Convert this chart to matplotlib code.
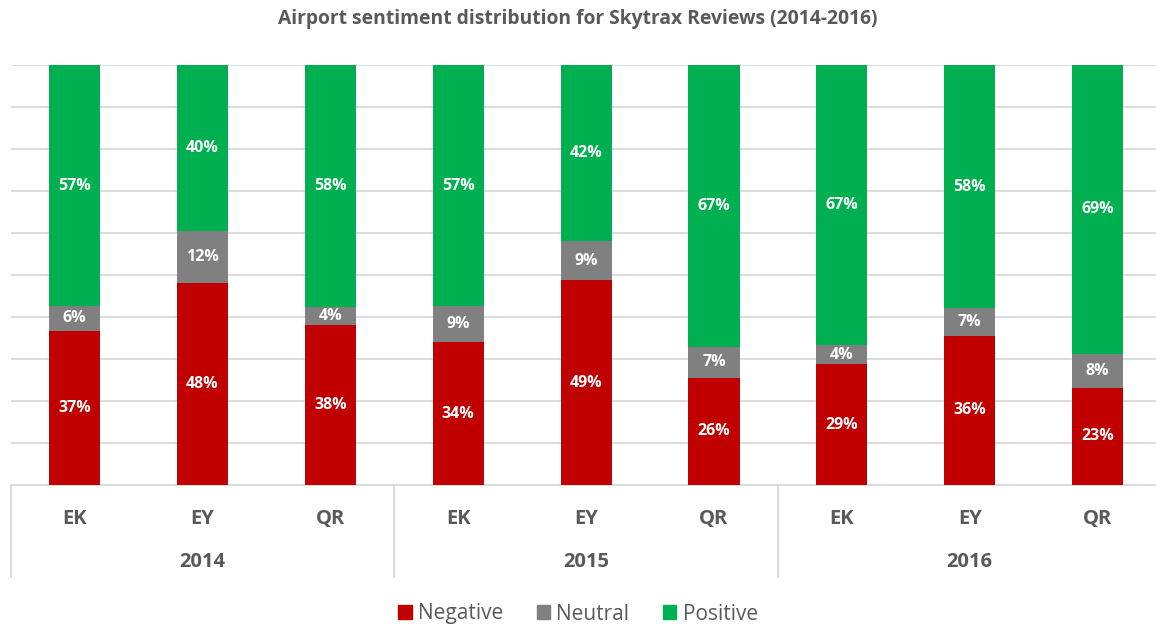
import matplotlib
matplotlib.use("Agg")
import matplotlib.pyplot as plt
from matplotlib.lines import Line2D
import numpy as np

plt.rcParams['font.family'] = ['Open Sans', 'DejaVu Sans']

years = ["2014", "2015", "2016"]
airlines = ["EK", "EY", "QR"]
negative = [36.7, 48.1, 38.1, 34.0, 48.8, 25.5, 28.8, 35.5, 23.1]
neutral = [5.9, 12.4, 4.3, 8.6, 9.3, 7.4, 4.5, 6.6, 8.1]
positive = [57.4, 39.6, 57.6, 57.4, 41.9, 67.1, 66.7, 57.9, 68.8]

colors = {"Negative": "#C00000", "Neutral": "#808080", "Positive": "#00B050"}
text_gray = "#595959"

W, H = 1156, 628
fig = plt.figure(figsize=(W / 100, H / 100), dpi=100)
ax = fig.add_axes([10.6 / W, 1 - 485 / H, 1151 / W, 420 / H])

n = len(negative)
x = np.arange(n)
neg = np.array(negative)
neu = np.array(neutral)
pos = np.array(positive)
tot = neg + neu + pos
negp, neup, posp = neg / tot * 100, neu / tot * 100, pos / tot * 100

bw = 0.40
ax.bar(x, negp, bw, color=colors["Negative"], zorder=3)
ax.bar(x, neup, bw, bottom=negp, color=colors["Neutral"], zorder=3)
ax.bar(x, posp, bw, bottom=negp + neup, color=colors["Positive"], zorder=3)

for i in range(n):
    for bottom, h, v in [(0, negp[i], neg[i]), (negp[i], neup[i], neu[i]),
                         (negp[i] + neup[i], posp[i], pos[i])]:
        ax.text(x[i], bottom + h / 2, f"{v:.0f}%", ha="center", va="center",
                color="white", fontsize=11.5, fontweight="bold", zorder=4)

ax.set_xlim(-0.5, n - 0.5)
ax.set_ylim(0, 100)
ax.set_yticks(np.arange(0, 101, 10))
ax.yaxis.grid(True, color="#D9D9D9", linewidth=1.3, zorder=0)
ax.tick_params(axis="y", left=False, labelleft=False)
ax.tick_params(axis="x", bottom=False, labelbottom=False)
for s in ["top", "right", "left"]:
    ax.spines[s].set_visible(False)
ax.spines["bottom"].set_color("#D9D9D9")
ax.spines["bottom"].set_linewidth(1.3)

# category labels
for i in range(n):
    ax.text(x[i], -8.0, airlines[i % 3], ha="center", va="center",
            fontsize=14.5, fontweight="bold", color=text_gray, clip_on=False)
for g, yr in enumerate(years):
    ax.text(3 * g + 1, -18.4, yr, ha="center", va="center",
            fontsize=14.5, fontweight="bold", color=text_gray, clip_on=False)
# group separators
for b in [-0.5, 2.5, 5.5]:
    ax.add_line(Line2D([b, b], [0, -22.0], color="#D9D9D9", linewidth=1.3,
                       clip_on=False))

fig.text(0.5, 1 - 19 / H, "Airport sentiment distribution for Skytrax Reviews (2014-2016)",
         ha="center", va="center", fontsize=13.9, fontweight="bold", color=text_gray)

handles = [plt.Rectangle((0, 0), 1, 1, color=colors[k]) for k in colors]
fig.legend(handles, list(colors.keys()), loc="center", bbox_to_anchor=(0.5, 1 - 614 / H),
           ncol=3, frameon=False, fontsize=15, handlelength=0.65, handleheight=0.65,
           handletextpad=0.3, columnspacing=1.6, labelcolor=text_gray)

fig.savefig("out.png", dpi=100)
